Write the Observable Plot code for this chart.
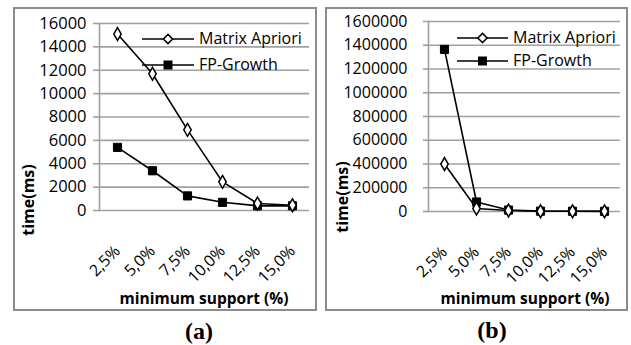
<!DOCTYPE html>
<html>
<head>
<meta charset="utf-8">
<script src="https://cdn.jsdelivr.net/npm/d3@7"></script>
<script src="https://cdn.jsdelivr.net/npm/@observablehq/plot@0.6"></script>
<style>
  html, body { margin: 0; padding: 0; background: #fff; }
  #root { position: relative; width: 631px; height: 345px; overflow: hidden; font-family: "Open Sans", sans-serif; }
  .abs { position: absolute; }
  .frame { position: absolute; border: 2px solid #8c8c8c; box-sizing: border-box; }
  .xlab { position: absolute; font-weight: bold; font-size: 15.5px; white-space: nowrap; transform: translate(-50%, -50%); }
  .ylab { position: absolute; font-weight: bold; font-size: 16px; white-space: nowrap; transform: translate(-50%, -50%) rotate(-90deg); }
  .cap { position: absolute; font-family: "Liberation Serif", "Times New Roman", serif; font-weight: bold; font-size: 24px; transform: translate(-50%, -50%); }
  .leg { position: absolute; font-size: 16px; white-space: nowrap; }
</style>
</head>
<body>
<div id="root"></div>
<script>
const categories = ["2,5%", "5,0%", "7,5%", "10,0%", "12,5%", "15,0%"];
const seriesNames = ["Matrix Apriori", "FP-Growth"];
// panel (a)
const aMatrix = [15100, 11700, 6900, 2450, 600, 450];
const aFP = [5400, 3400, 1250, 700, 400, 400];
const aTicks = [0, 2000, 4000, 6000, 8000, 10000, 12000, 14000, 16000];
// panel (b)
const bMatrix = [400000, 25000, 8000, 2000, 1500, 1000];
const bFP = [1365000, 80000, 12000, 3000, 2000, 1500];
const bTicks = [0, 200000, 400000, 600000, 800000, 1000000, 1200000, 1400000, 1600000];

const xLabel = "minimum support (%)";
const yLabel = "time(ms)";

const root = document.getElementById("root");

function rows(matrix, fp) {
  return categories.flatMap((c, i) => [
    {cat: c, s: seriesNames[0], v: matrix[i]},
    {cat: c, s: seriesNames[1], v: fp[i]}
  ]);
}

function panel(opts) {
  const data = rows(opts.matrix, opts.fp);
  const grid = "#a0a0a0";
  const chart = Plot.plot({
    width: opts.width,
    height: opts.height,
    marginLeft: opts.ml,
    marginRight: opts.mr,
    marginTop: opts.mt,
    marginBottom: opts.mb,
    style: {fontFamily: "Open Sans", background: "transparent", color: "#000"},
    x: {type: "point", domain: categories, padding: 0.5, label: null},
    y: {domain: [0, opts.ticks[opts.ticks.length - 1]], label: null},
    marks: [
      Plot.gridY(opts.ticks, {stroke: grid, strokeOpacity: 1, strokeWidth: 1.6}),
      Plot.axisY(opts.ticks, {tickSize: opts.tickSize, tickPadding: opts.tickPadding, stroke: grid, strokeOpacity: 1, strokeWidth: 1.6, fontSize: opts.yFont, style: opts.yStyle, tickFormat: d => String(d)}),
      Plot.frame({anchor: "left", stroke: grid, strokeWidth: 1.6}),
      Plot.axisX({tickSize: 0, tickRotate: -45, tickPadding: opts.xPad, fontSize: 16, textAnchor: "end", dy: 5}),
      Plot.line(data, {x: "cat", y: "v", z: "s", stroke: "#000", strokeWidth: 1.6}),
      Plot.dot(data.filter(d => d.s === seriesNames[1]), {x: "cat", y: "v", symbol: "square", r: 4.6, fill: "#000", stroke: "#000", strokeWidth: 1}),
      Plot.dot(data.filter(d => d.s === seriesNames[0]), {x: "cat", y: "v", symbol: "diamond", r: 3.9, fill: "#fff", stroke: "#000", strokeWidth: 1.5})
    ]
  });
  chart.style.position = "absolute";
  chart.style.left = opts.left + "px";
  chart.style.top = "0px";

  const frame = document.createElement("div");
  frame.className = "frame";
  Object.assign(frame.style, {left: opts.frame[0] + "px", top: opts.frame[1] + "px", width: opts.frame[2] + "px", height: opts.frame[3] + "px"});
  root.appendChild(frame);
  root.appendChild(chart);

  // legend
  const lg = opts.legend;
  const svg = d3.select(root).append("svg").attr("class", "abs")
    .style("left", "0px").style("top", "0px").attr("width", 631).attr("height", 345)
    .style("pointer-events", "none");
  seriesNames.forEach((name, i) => {
    const y = lg.y[i];
    svg.append("line").attr("x1", lg.x1).attr("x2", lg.x2).attr("y1", y).attr("y2", y)
      .attr("stroke", "#000").attr("stroke-width", 1.6);
    const cx = (lg.x1 + lg.x2) / 2;
    if (i === 0) {
      const s = 4.6;
      svg.append("path").attr("d", `M${cx},${y - s}L${cx + s},${y}L${cx},${y + s}L${cx - s},${y}Z`)
        .attr("fill", "#fff").attr("stroke", "#000").attr("stroke-width", 1.5);
    } else {
      svg.append("rect").attr("x", cx - 4.5).attr("y", y - 4.5).attr("width", 9).attr("height", 9).attr("fill", "#000");
    }
    const t = document.createElement("div");
    t.className = "leg";
    t.textContent = name;
    Object.assign(t.style, {left: lg.tx + "px", top: (y - 12) + "px", letterSpacing: lg.ls});
    root.appendChild(t);
  });

  const xl = document.createElement("div");
  xl.className = "xlab"; xl.textContent = xLabel;
  Object.assign(xl.style, {left: opts.xlab[0] + "px", top: opts.xlab[1] + "px"});
  root.appendChild(xl);

  const yl = document.createElement("div");
  yl.className = "ylab"; yl.textContent = yLabel;
  Object.assign(yl.style, {left: opts.ylab[0] + "px", top: opts.ylab[1] + "px"});
  root.appendChild(yl);

  const cp = document.createElement("div");
  cp.className = "cap"; cp.textContent = opts.caption;
  Object.assign(cp.style, {left: opts.cap[0] + "px", top: opts.cap[1] + "px"});
  root.appendChild(cp);
}

panel({
  matrix: aMatrix, fp: aFP, ticks: aTicks,
  left: 0, width: 320, height: 312, ml: 99, mr: 11, mt: 23, mb: 102,
  tickSize: 6, tickPadding: 7, yFont: 16.5, yStyle: "letter-spacing:1px", xPad: 33,
  frame: [13, 7, 304, 304],
  legend: {x1: 142, x2: 194, y: [39, 65], tx: 199, ls: "0px"},
  xlab: [204, 298], ylab: [28, 200], caption: "(a)", cap: [199, 331]
});

panel({
  matrix: bMatrix, fp: bFP, ticks: bTicks,
  left: 315, width: 316, height: 312, ml: 113, mr: 11, mt: 21, mb: 101,
  tickSize: 5, tickPadding: 16, yFont: 16, yStyle: "", xPad: 33,
  frame: [325, 7, 303, 304],
  legend: {x1: 457, x2: 508, y: [38, 61], tx: 513, ls: "0px"},
  xlab: [525, 298], ylab: [342, 197], caption: "(b)", cap: [492, 330]
});
</script>
</body>
</html>
